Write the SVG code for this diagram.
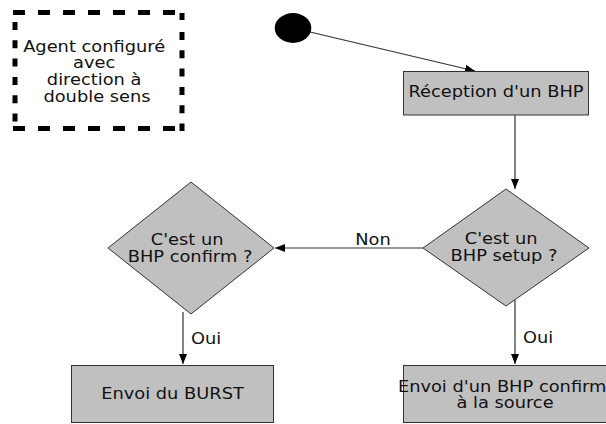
<svg xmlns="http://www.w3.org/2000/svg" width="606" height="424" viewBox="0 0 606 424">
  <style>
    .t { font-family: "DejaVu Sans", "Liberation Sans", sans-serif; font-size: 15.5px; text-anchor: middle; fill: #111; }
    .box { fill: #c0c0c0; stroke: #333; stroke-width: 1; }
    .edge { fill: none; stroke: #333; stroke-width: 1.2; }
    .dash { stroke: #000; stroke-width: 5; fill: none; }
  </style>
  <defs>
    <marker id="arrow" markerUnits="userSpaceOnUse" markerWidth="12" markerHeight="10" refX="10" refY="4" orient="auto">
      <path d="M0,0 L10,4 L0,8 Z" fill="#000"/>
    </marker>
  </defs>

  <!-- note box with thick dashed border -->
  <g id="note">
    <line class="dash" x1="13" y1="12.5" x2="184" y2="12.5" stroke-dasharray="12 13"/>
    <line class="dash" x1="13" y1="128.5" x2="184" y2="128.5" stroke-dasharray="12 13"/>
    <line class="dash" x1="15" y1="22" x2="15" y2="126" stroke-dasharray="8 10.3"/>
    <line class="dash" x1="182" y1="13" x2="182" y2="131" stroke-dasharray="7 12 8 10.3 8 10.3 8 10.3 8 10.3 8 10.3 8 10.3"/>
    <text class="t" transform="translate(97,52) scale(1.15,1)">
      <tspan x="0" dy="0">Agent configuré</tspan>
      <tspan x="0" dy="16.5">avec</tspan>
      <tspan x="0" dy="17">direction à</tspan>
      <tspan x="0" dy="16.5">double sens</tspan>
    </text>
  </g>

  <!-- connectors -->
  <g id="connectors">
    <line class="edge" x1="310" y1="32" x2="475" y2="71" marker-end="url(#arrow)"/>
    <line class="edge" x1="515" y1="115" x2="515" y2="189" marker-end="url(#arrow)"/>
    <line class="edge" x1="423" y1="248" x2="275" y2="248" marker-end="url(#arrow)"/>
    <line class="edge" x1="515" y1="300" x2="515" y2="364" marker-end="url(#arrow)"/>
    <line class="edge" x1="183" y1="312" x2="183" y2="364" marker-end="url(#arrow)"/>
    <text class="t" transform="translate(373,245) scale(1.15,1)">Non</text>
    <text class="t" transform="translate(538,343) scale(1.15,1)">Oui</text>
    <text class="t" transform="translate(206,344) scale(1.15,1)">Oui</text>
  </g>

  <!-- start node -->
  <g id="start">
    <ellipse cx="293" cy="28" rx="18.3" ry="15" fill="#000"/>
  </g>

  <g id="reception">
    <rect class="box" x="403.5" y="71.5" width="185" height="43.5"/>
    <text class="t" transform="translate(496,97) scale(1.15,1)">Réception d'un BHP</text>
  </g>

  <g id="is-setup">
    <polygon class="box" points="506,189 589,248 506,306 423,248"/>
    <text class="t" transform="translate(504,244) scale(1.15,1)">
      <tspan x="0" dy="0">C'est un</tspan>
      <tspan x="0" dy="17.5">BHP setup ?</tspan>
    </text>
  </g>

  <g id="is-confirm">
    <polygon class="box" points="191,182 274,248 191,314 108,248"/>
    <text class="t" transform="translate(190,245) scale(1.15,1)">
      <tspan x="0" dy="0">C'est un</tspan>
      <tspan x="0" dy="17.5">BHP confirm ?</tspan>
    </text>
  </g>

  <g id="send-burst">
    <rect class="box" x="71.5" y="365.5" width="202" height="57"/>
    <text class="t" transform="translate(172.5,399) scale(1.15,1)">Envoi du BURST</text>
  </g>

  <g id="send-confirm">
    <rect class="box" x="403.5" y="365.5" width="205" height="57"/>
    <text class="t" transform="translate(505,392) scale(1.15,1)">
      <tspan x="0" dy="0">Envoi d'un BHP confirm</tspan>
      <tspan x="0" dy="16.5">à la source</tspan>
    </text>
  </g>
</svg>
